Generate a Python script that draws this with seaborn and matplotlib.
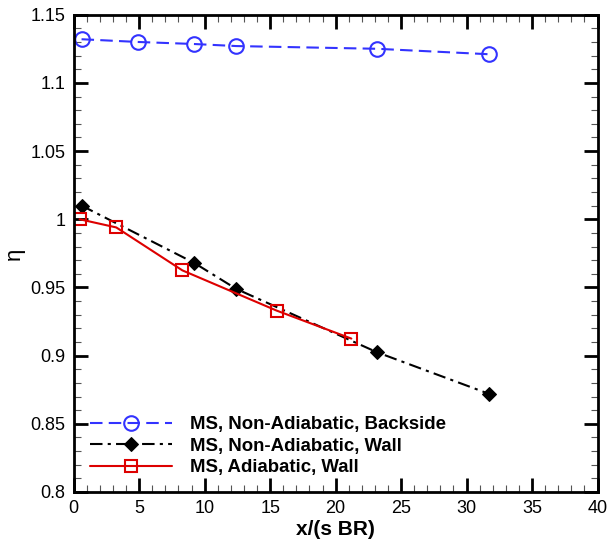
import matplotlib
matplotlib.use("Agg")
import matplotlib.pyplot as plt
import seaborn as sns
import pandas as pd
from matplotlib.ticker import MultipleLocator

sns.set_style("ticks")
plt.rcParams['font.family'] = ['Liberation Sans', 'DejaVu Sans']
plt.rcParams.update({"text.color": "black", "axes.labelcolor": "black",
                     "xtick.color": "black", "ytick.color": "black", "axes.edgecolor": "black"})

x_backside = [0.6, 4.9, 9.2, 12.4, 23.15, 31.7]
eta_backside = [1.132, 1.130, 1.1285, 1.127, 1.125, 1.121]
x_nonadiab_wall = [0.6, 9.2, 12.4, 23.15, 31.7]
eta_nonadiab_wall = [1.010, 0.968, 0.949, 0.9025, 0.872]
x_adiab_wall = [0.45, 3.25, 8.3, 15.5, 21.2]
eta_adiab_wall = [1.000, 0.994, 0.9625, 0.933, 0.9125]
labels = ["MS, Non-Adiabatic, Backside", "MS, Non-Adiabatic, Wall", "MS, Adiabatic, Wall"]

fig = plt.figure(figsize=(6.11, 5.44), dpi=100)
ax = fig.add_axes([0.1206, 0.0956, 0.8574, 0.8774])

d1 = pd.DataFrame({"x": x_backside, "y": eta_backside})
d2 = pd.DataFrame({"x": x_nonadiab_wall, "y": eta_nonadiab_wall})
d3 = pd.DataFrame({"x": x_adiab_wall, "y": eta_adiab_wall})

sns.lineplot(data=d1, x="x", y="y", ax=ax, color="#3333ff", linestyle=(0, (6, 3)), lw=1.5,
             marker="o", markersize=10.5, markerfacecolor="none", markeredgecolor="#3333ff",
             markeredgewidth=1.5, label=labels[0], sort=False)
sns.lineplot(data=d2, x="x", y="y", ax=ax, color="black", linestyle=(0, (6, 2.5, 1.5, 2.5)), lw=1.5,
             marker="D", markersize=7.5, markerfacecolor="black", markeredgecolor="black",
             label=labels[1], sort=False)
sns.lineplot(data=d3, x="x", y="y", ax=ax, color="#dd0000", linestyle="-", lw=1.5,
             marker="s", markersize=9, markerfacecolor="none", markeredgecolor="#dd0000",
             markeredgewidth=1.5, label=labels[2], sort=False)

ax.set_xlim(0, 40)
ax.set_ylim(0.8, 1.15)
ax.xaxis.set_major_locator(MultipleLocator(5))
ax.xaxis.set_minor_locator(MultipleLocator(1))
ax.yaxis.set_major_locator(MultipleLocator(0.05))
ax.yaxis.set_minor_locator(MultipleLocator(0.01))
ax.set_xticklabels([f"{int(v)}" for v in ax.get_xticks()])
ytk = ax.get_yticks()
ax.set_yticks(ytk)
ax.set_yticklabels([("%g" % round(v, 2)) for v in ytk])
ax.set_ylim(0.8, 1.15)
ax.tick_params(which="major", direction="in", length=10, width=2, top=True, right=True,
               labelsize=13, pad=6, colors="black")
ax.tick_params(which="minor", direction="in", length=5, width=0.8, top=True, right=True, color="#555555")
for s in ax.spines.values():
    s.set_linewidth(2)
    s.set_visible(True)
    s.set_color("black")

ax.set_xlabel("x/(s BR)", fontsize=15, fontweight="bold", labelpad=2, color="black")
ax.set_ylabel("η", fontsize=16, color="black")
ax.yaxis.set_label_coords(-0.093, 0.5)

leg = ax.legend(loc="lower left", bbox_to_anchor=(0.006, 0.006), frameon=False,
                prop={"weight": "bold", "size": 13.4}, handlelength=4.4,
                handletextpad=1.0, labelspacing=0.24, borderaxespad=0.3)
for t in leg.get_texts():
    t.set_color("black")

fig.savefig("out.png", dpi=100)
